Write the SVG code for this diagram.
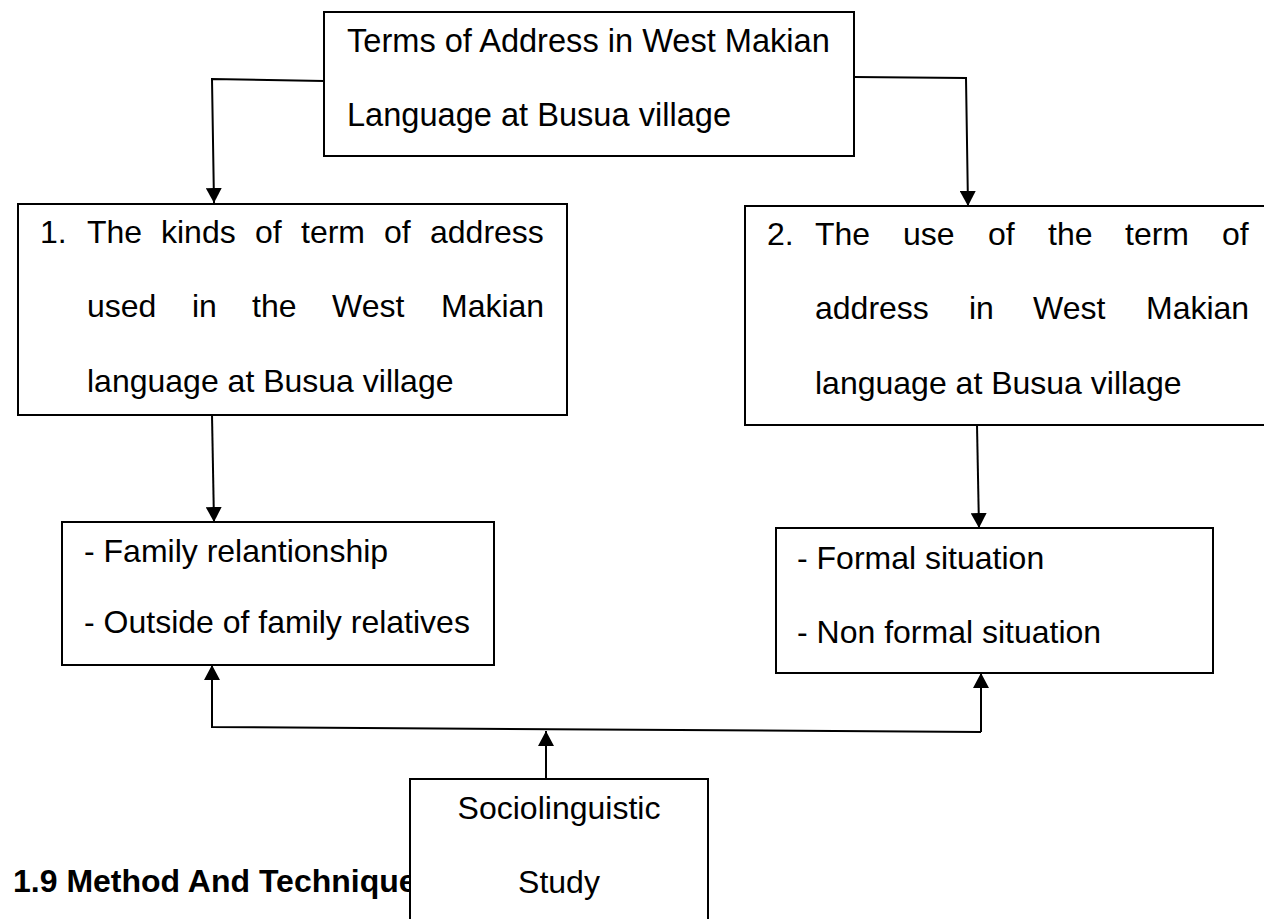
<svg xmlns="http://www.w3.org/2000/svg" width="1264" height="919" viewBox="0 0 1264 919">
<style>
  .box { fill: #ffffff; stroke: #000000; stroke-width: 2; }
  .t { font-family: "Liberation Sans", Arial, sans-serif; font-size: 32px; fill: #000000; }
  .h { font-family: "Liberation Sans", Arial, sans-serif; font-size: 32px; font-weight: bold; fill: #000000; }
  .c { fill: none; stroke: #000000; stroke-width: 2; }
</style>
<defs>
  <marker id="arr" markerUnits="userSpaceOnUse" markerWidth="16" markerHeight="16" viewBox="0 0 16 16" refX="15" refY="8" orient="auto">
    <path d="M0,0 L15,8 L0,16 Z" fill="#000000"/>
  </marker>
</defs>
<rect width="1264" height="919" fill="#ffffff"/>

<text class="h" x="13" y="892">1.9 Method And Technique</text>

<g id="connectors">
  <polyline class="c" points="324,81 212,79 214,203" marker-end="url(#arr)"/>
  <polyline class="c" points="854,77 966,78 968,206" marker-end="url(#arr)"/>
  <line class="c" x1="212" y1="415" x2="214" y2="522" marker-end="url(#arr)"/>
  <line class="c" x1="977" y1="425" x2="979" y2="528" marker-end="url(#arr)"/>
  <polyline class="c" points="981,732 212,727 212,665" marker-end="url(#arr)"/>
  <line class="c" x1="981" y1="732" x2="981" y2="673" marker-end="url(#arr)"/>
  <line class="c" x1="546" y1="779" x2="546" y2="731" marker-end="url(#arr)"/>
</g>

<g id="node-top">
  <rect class="box" x="324" y="12" width="530" height="144"/>
  <text class="t" x="347" y="52" style="font-size:32.6px">Terms of Address in West Makian</text>
  <text class="t" x="347" y="126" style="font-size:32.6px">Language at Busua village</text>
</g>

<g id="node-kinds">
  <rect class="box" x="18" y="204" width="549" height="211"/>
  <text class="t" y="243"><tspan x="40">1.</tspan><tspan x="87">The</tspan><tspan x="161">kinds</tspan><tspan x="255">of</tspan><tspan x="301">term</tspan><tspan x="384">of</tspan><tspan x="430">address</tspan></text>
  <text class="t" y="317"><tspan x="87">used</tspan><tspan x="192">in</tspan><tspan x="252">the</tspan><tspan x="332">West</tspan><tspan x="441">Makian</tspan></text>
  <text class="t" x="87" y="392">language at Busua village</text>
</g>

<g id="node-use">
  <rect class="box" x="745" y="206" width="530" height="219"/>
  <text class="t" y="245"><tspan x="767">2.</tspan><tspan x="815">The</tspan><tspan x="903">use</tspan><tspan x="988">of</tspan><tspan x="1048">the</tspan><tspan x="1125">term</tspan><tspan x="1222">of</tspan></text>
  <text class="t" y="319"><tspan x="815">address</tspan><tspan x="969">in</tspan><tspan x="1033">West</tspan><tspan x="1146">Makian</tspan></text>
  <text class="t" x="815" y="394">language at Busua village</text>
</g>

<g id="node-family">
  <rect class="box" x="62" y="522" width="432" height="143"/>
  <text class="t" x="84" y="562">- Family relantionship</text>
  <text class="t" x="84" y="633">- Outside of family relatives</text>
</g>

<g id="node-situation">
  <rect class="box" x="776" y="528" width="437" height="145"/>
  <text class="t" x="797" y="569">- Formal situation</text>
  <text class="t" x="797" y="643">- Non formal situation</text>
</g>

<g id="node-socio">
  <rect class="box" x="410" y="779" width="298" height="160"/>
  <text class="t" x="559" y="819" text-anchor="middle">Sociolinguistic</text>
  <text class="t" x="559" y="893" text-anchor="middle">Study</text>
</g>
</svg>
